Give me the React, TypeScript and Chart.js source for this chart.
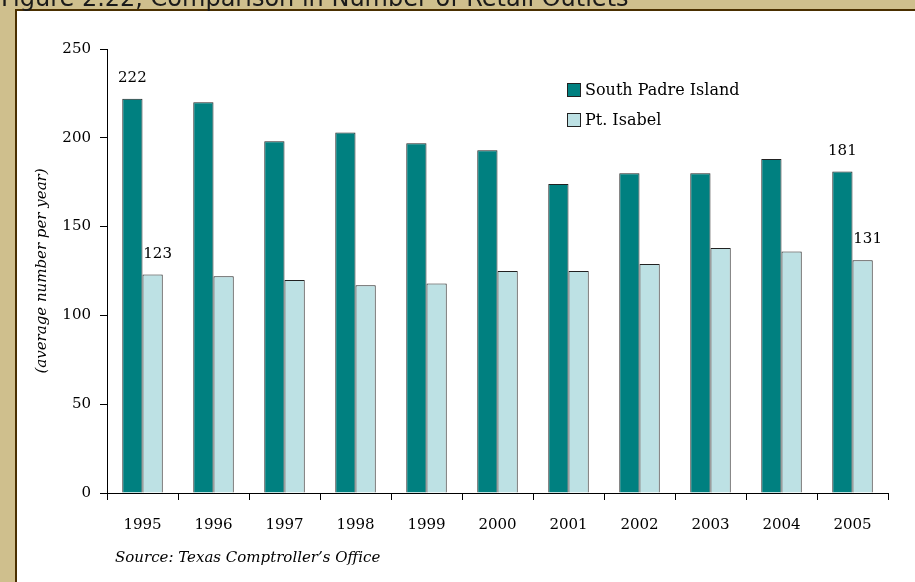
import React, { useEffect, useRef } from "react";
import { Chart, registerables } from "chart.js";

Chart.register(...registerables);

// Yearly average count of retail outlets
const years = ["1995", "1996", "1997", "1998", "1999", "2000", "2001", "2002", "2003", "2004", "2005"];
const southPadreIsland = [222, 220, 198, 203, 197, 193, 174, 180, 180, 188, 181];
const portIsabel = [123, 122, 120, 117, 118, 125, 125, 129, 138, 136, 131];
const seriesNames = ["South Padre Island", "Pt. Isabel"];
const seriesColors = ["#008080", "#BDE1E4"];
const labeledYears = ["1995", "2005"];
const yTicks = [0, 50, 100, 150, 200, 250];

const figureTitle = "Figure 2.22, Comparison in Number of Retail Outlets";
const axisTitle = "(average number per year)";
const sourceNote = "Source: Texas Comptroller\u2019s Office";

const SERIF = "'DejaVu Serif', serif";
const W = 915;
const H = 582;

// Draws the figure title, value labels, legend and source line on the canvas
const annotations = {
  id: "annotations",
  afterDraw(chart: any) {
    const ctx = chart.ctx;
    const area = chart.chartArea;
    ctx.save();

    // Figure title (sits above the framed panel)
    ctx.fillStyle = "#1a1a1a";
    ctx.font = "24px 'DejaVu Sans', sans-serif";
    ctx.textAlign = "left";
    ctx.textBaseline = "alphabetic";
    ctx.fillText(figureTitle, 1, 6);

    // Value labels above the first and last year
    ctx.fillStyle = "#000";
    ctx.font = `15px ${SERIF}`;
    ctx.textAlign = "center";
    chart.data.datasets.forEach((ds: any, di: number) => {
      const meta = chart.getDatasetMeta(di);
      labeledYears.forEach((yr) => {
        const idx = years.indexOf(yr);
        const bar = meta.data[idx];
        if (!bar) return;
        ctx.fillText(String(ds.data[idx]), bar.x + (di === 1 ? 5 : 0), bar.y - 17);
      });
    });

    // Legend
    const lx = area.left + 460;
    const ly = area.top + 34;
    ctx.textAlign = "left";
    ctx.textBaseline = "middle";
    ctx.font = `16px ${SERIF}`;
    seriesNames.forEach((name, i) => {
      const y = ly + i * 30;
      ctx.fillStyle = seriesColors[i];
      ctx.fillRect(lx, y, 14, 14);
      ctx.strokeStyle = "#222";
      ctx.lineWidth = 1;
      ctx.strokeRect(lx + 0.5, y + 0.5, 13, 13);
      ctx.fillStyle = "#000";
      ctx.fillText(name, lx + 18, y + 8);
    });

    // Source line
    ctx.font = `italic 15px ${SERIF}`;
    ctx.textBaseline = "alphabetic";
    ctx.fillText(sourceNote, 115, 562);

    ctx.restore();
  },
};

export default function App() {
  const canvasRef = useRef<HTMLCanvasElement | null>(null);

  useEffect(() => {
    if (!canvasRef.current) return;
    const chart = new Chart(canvasRef.current, {
      type: "bar",
      data: {
        labels: years,
        datasets: [southPadreIsland, portIsabel].map((values, i) => ({
          label: seriesNames[i],
          data: values,
          backgroundColor: seriesColors[i],
          borderColor: "#222",
          borderWidth: 1,
          categoryPercentage: 0.57,
          barPercentage: 1,
        })),
      },
      options: {
        animation: false,
        responsive: false,
        maintainAspectRatio: false,
        layout: { padding: { left: 29, top: 49, right: 27, bottom: 0 } },
        plugins: {
          legend: { display: false },
          tooltip: { enabled: false },
          title: { display: false },
        },
        scales: {
          x: {
            grid: {
              display: true,
              drawOnChartArea: false,
              drawTicks: true,
              tickLength: 7,
              color: "#000",
              offset: true,
            },
            border: { color: "#000", width: 1 },
            ticks: {
              color: "#000",
              font: { family: SERIF, size: 15 },
              padding: 16,
              maxRotation: 0,
            },
            afterFit: (scale: any) => {
              scale.height = 89;
            },
          },
          y: {
            min: 0,
            max: 250,
            afterBuildTicks: (scale: any) => {
              scale.ticks = yTicks.map((v) => ({ value: v }));
            },
            grid: {
              display: true,
              drawOnChartArea: false,
              drawTicks: true,
              tickLength: 7,
              color: "#000",
            },
            border: { color: "#000", width: 1 },
            ticks: {
              color: "#000",
              font: { family: SERIF, size: 15 },
              padding: 9,
            },
            title: {
              display: true,
              text: axisTitle,
              color: "#000",
              font: { family: SERIF, size: 15, style: "italic" },
              padding: 4,
            },
            afterFit: (scale: any) => {
              scale.width = 78;
            },
          },
        },
      },
      plugins: [annotations],
    });
    return () => chart.destroy();
  }, []);

  return (
    <div
      style={{
        position: "fixed",
        left: 0,
        top: 0,
        width: W,
        height: H,
        overflow: "hidden",
        background: "#CFBF8D",
      }}
    >
      <div
        style={{
          position: "absolute",
          left: 15,
          top: 9,
          width: W + 20,
          height: H + 20,
          borderLeft: "2px solid #4A2F00",
          borderTop: "2px solid #4A2F00",
          background: "#fff",
        }}
      />
      <canvas
        ref={canvasRef}
        width={W}
        height={H}
        style={{ position: "absolute", left: 0, top: 0, width: W, height: H }}
      />
    </div>
  );
}
